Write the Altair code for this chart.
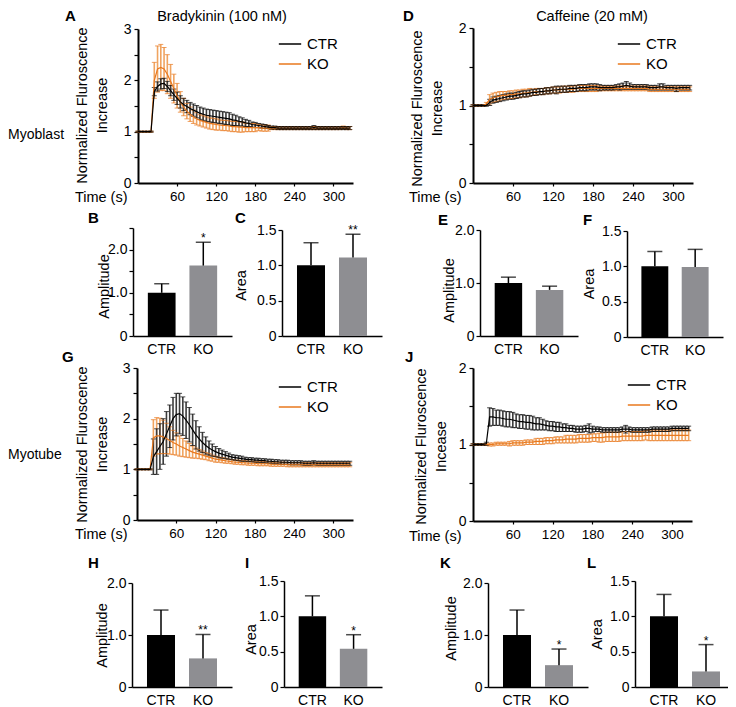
import altair as alt
import pandas as pd

FONT = "Liberation Sans"
W, H = 720, 699

TIME = list(range(0, 330, 5))

A_CTR_MEAN = [1.00,1.00,1.00,1.00,1.00,1.78,1.88,1.93,1.94,1.88,
              1.80,1.72,1.65,1.58,1.53,1.49,1.45,1.42,1.39,1.36,
              1.34,1.32,1.31,1.30,1.29,1.28,1.27,1.26,1.25,1.23,
              1.22,1.20,1.19,1.17,1.16,1.14,1.13,1.12,1.11,1.10,
              1.09,1.08,1.08,1.07,1.07,1.07,1.07,1.07,1.07,1.07,
              1.07,1.07,1.07,1.07,1.08,1.07,1.07,1.07,1.07,1.07,
              1.07,1.07,1.07,1.07,1.07,1.07]
A_CTR_ERR = [0.01,0.01,0.01,0.01,0.01,0.08,0.09,0.10,0.10,0.10,
             0.10,0.11,0.12,0.12,0.12,0.12,0.12,0.12,0.12,0.12,
             0.12,0.12,0.12,0.12,0.12,0.12,0.12,0.12,0.12,0.11,
             0.10,0.09,0.08,0.07,0.06,0.05,0.05,0.04,0.04,0.04,
             0.03,0.03,0.03,0.03,0.03,0.03,0.03,0.03,0.03,0.03,
             0.03,0.03,0.03,0.03,0.04,0.03,0.03,0.03,0.03,0.03,
             0.03,0.03,0.03,0.03,0.03,0.03]
A_KO_MEAN = [1.00,1.00,1.00,1.00,1.00,2.00,2.22,2.25,2.22,2.12,
             1.98,1.84,1.70,1.58,1.48,1.40,1.34,1.29,1.25,1.22,
             1.20,1.18,1.16,1.15,1.14,1.13,1.12,1.12,1.11,1.10,
             1.10,1.09,1.09,1.08,1.08,1.08,1.08,1.08,1.07,1.07,
             1.07,1.07,1.07,1.07,1.07,1.07,1.07,1.07,1.07,1.07,
             1.07,1.07,1.07,1.07,1.07,1.07,1.07,1.07,1.07,1.07,
             1.07,1.07,1.07,1.08,1.07,1.07]
A_KO_ERR = [0.01,0.01,0.01,0.01,0.01,0.35,0.45,0.45,0.42,0.38,
            0.33,0.28,0.24,0.20,0.17,0.15,0.14,0.13,0.12,0.11,
            0.11,0.11,0.11,0.11,0.11,0.10,0.10,0.10,0.10,0.10,
            0.10,0.10,0.10,0.08,0.08,0.08,0.08,0.06,0.06,0.06,
            0.06,0.03,0.03,0.03,0.03,0.03,0.03,0.03,0.03,0.03,
            0.03,0.03,0.03,0.03,0.03,0.03,0.03,0.03,0.03,0.03,
            0.03,0.03,0.03,0.03,0.03,0.03]

D_CTR_MEAN = [1.00,1.00,1.00,1.00,1.00,1.04,1.07,1.08,1.09,1.10,
              1.11,1.12,1.12,1.13,1.14,1.15,1.15,1.16,1.17,1.17,
              1.18,1.18,1.19,1.19,1.20,1.20,1.21,1.21,1.21,1.22,
              1.22,1.22,1.23,1.23,1.23,1.24,1.24,1.24,1.23,1.23,
              1.23,1.23,1.23,1.24,1.24,1.25,1.26,1.25,1.24,1.24,
              1.24,1.24,1.24,1.23,1.23,1.23,1.24,1.24,1.23,1.23,
              1.23,1.22,1.23,1.23,1.23,1.23]
D_CTR_ERR = [0.01,0.01,0.01,0.01,0.01,0.04,0.04,0.04,0.04,0.04,
             0.04,0.04,0.04,0.04,0.04,0.04,0.04,0.04,0.04,0.04,
             0.04,0.04,0.04,0.04,0.04,0.05,0.04,0.04,0.04,0.04,
             0.04,0.04,0.04,0.04,0.04,0.04,0.04,0.04,0.04,0.03,
             0.03,0.03,0.03,0.03,0.04,0.04,0.05,0.04,0.03,0.03,
             0.03,0.03,0.03,0.03,0.03,0.03,0.04,0.04,0.03,0.03,
             0.03,0.04,0.03,0.03,0.03,0.03]
D_KO_MEAN = [1.00,1.00,1.00,1.00,1.02,1.08,1.10,1.11,1.12,1.13,
             1.13,1.14,1.14,1.15,1.15,1.16,1.16,1.17,1.17,1.18,
             1.18,1.18,1.19,1.19,1.20,1.20,1.20,1.21,1.21,1.21,
             1.21,1.22,1.22,1.22,1.22,1.22,1.22,1.22,1.22,1.22,
             1.22,1.22,1.22,1.22,1.22,1.22,1.22,1.22,1.22,1.22,
             1.22,1.22,1.22,1.21,1.21,1.21,1.21,1.21,1.21,1.21,
             1.21,1.21,1.21,1.21,1.21,1.21]
D_KO_ERR = [0.01,0.01,0.01,0.01,0.02,0.06,0.06,0.06,0.06,0.05,
            0.05,0.05,0.05,0.05,0.05,0.05,0.05,0.05,0.04,0.04,
            0.04,0.04,0.04,0.04,0.04,0.04,0.04,0.04,0.04,0.04,
            0.04,0.04,0.04,0.04,0.04,0.04,0.04,0.04,0.03,0.03,
            0.03,0.03,0.03,0.03,0.03,0.03,0.03,0.03,0.03,0.03,
            0.03,0.03,0.03,0.03,0.03,0.03,0.03,0.03,0.03,0.03,
            0.03,0.03,0.03,0.03,0.03,0.03]

G_CTR_MEAN = [1.00,1.00,1.00,1.00,1.00,1.25,1.35,1.45,1.55,1.70,
              1.85,2.00,2.08,2.10,2.05,1.97,1.88,1.78,1.68,1.60,
              1.53,1.47,1.42,1.38,1.35,1.32,1.30,1.28,1.26,1.24,
              1.23,1.22,1.21,1.20,1.19,1.19,1.18,1.18,1.17,1.17,
              1.16,1.16,1.15,1.15,1.14,1.14,1.14,1.13,1.13,1.13,
              1.13,1.12,1.12,1.12,1.13,1.12,1.12,1.12,1.12,1.12,
              1.12,1.12,1.12,1.12,1.12,1.12]
G_CTR_ERR = [0.01,0.01,0.01,0.01,0.01,0.35,0.45,0.45,0.45,0.44,
             0.42,0.42,0.42,0.40,0.38,0.36,0.34,0.31,0.28,0.24,
             0.20,0.17,0.14,0.12,0.10,0.09,0.08,0.07,0.06,0.05,
             0.05,0.05,0.05,0.04,0.04,0.04,0.04,0.04,0.04,0.04,
             0.04,0.04,0.04,0.04,0.04,0.04,0.04,0.04,0.04,0.04,
             0.04,0.04,0.04,0.04,0.04,0.04,0.04,0.04,0.04,0.04,
             0.04,0.04,0.04,0.04,0.04,0.04]
G_KO_MEAN = [1.00,1.00,1.00,1.00,1.00,1.62,1.66,1.66,1.64,1.61,
             1.57,1.53,1.50,1.46,1.43,1.40,1.37,1.34,1.32,1.30,
             1.28,1.26,1.24,1.22,1.20,1.19,1.18,1.17,1.16,1.15,
             1.14,1.14,1.13,1.13,1.12,1.12,1.12,1.11,1.11,1.11,
             1.11,1.10,1.10,1.10,1.10,1.10,1.09,1.09,1.09,1.09,
             1.09,1.09,1.09,1.09,1.09,1.09,1.09,1.09,1.09,1.09,
             1.09,1.09,1.09,1.09,1.09,1.09]
G_KO_ERR = [0.01,0.01,0.01,0.01,0.01,0.36,0.36,0.35,0.33,0.30,
            0.27,0.24,0.22,0.20,0.18,0.16,0.14,0.12,0.10,0.09,
            0.08,0.07,0.07,0.06,0.06,0.05,0.05,0.05,0.04,0.04,
            0.04,0.04,0.04,0.04,0.04,0.04,0.04,0.04,0.04,0.04,
            0.04,0.04,0.04,0.04,0.04,0.04,0.04,0.04,0.04,0.04,
            0.04,0.04,0.04,0.04,0.04,0.04,0.04,0.04,0.04,0.04,
            0.04,0.04,0.04,0.04,0.04,0.04]

J_CTR_MEAN = [1.00,1.00,1.00,1.00,1.01,1.36,1.36,1.35,1.35,1.34,
              1.33,1.33,1.32,1.31,1.30,1.30,1.29,1.29,1.28,1.27,
              1.27,1.26,1.25,1.24,1.24,1.23,1.23,1.22,1.22,1.21,
              1.21,1.20,1.20,1.20,1.21,1.21,1.20,1.20,1.20,1.19,
              1.19,1.19,1.19,1.19,1.19,1.20,1.20,1.20,1.19,1.19,
              1.19,1.19,1.19,1.19,1.20,1.20,1.20,1.20,1.20,1.20,
              1.21,1.21,1.21,1.21,1.21,1.21]
J_CTR_ERR = [0.01,0.01,0.01,0.01,0.02,0.12,0.11,0.10,0.10,0.10,
             0.10,0.10,0.10,0.09,0.09,0.09,0.09,0.09,0.09,0.08,
             0.08,0.07,0.06,0.06,0.06,0.06,0.06,0.05,0.05,0.04,
             0.04,0.04,0.04,0.04,0.04,0.06,0.04,0.03,0.03,0.03,
             0.03,0.03,0.03,0.03,0.03,0.03,0.05,0.03,0.03,0.03,
             0.03,0.03,0.03,0.03,0.03,0.03,0.03,0.03,0.03,0.03,
             0.03,0.03,0.03,0.03,0.03,0.03]
J_KO_MEAN = [1.00,1.00,1.00,1.00,1.00,1.00,1.00,1.01,1.01,1.01,
             1.01,1.01,1.02,1.02,1.02,1.02,1.03,1.03,1.03,1.04,
             1.04,1.04,1.05,1.05,1.05,1.06,1.06,1.06,1.07,1.07,
             1.07,1.07,1.08,1.08,1.08,1.08,1.09,1.09,1.09,1.09,
             1.10,1.10,1.10,1.10,1.10,1.11,1.11,1.11,1.11,1.11,
             1.11,1.11,1.12,1.12,1.12,1.12,1.12,1.12,1.12,1.12,
             1.12,1.12,1.12,1.12,1.12,1.12]
J_KO_ERR = [0.01,0.01,0.01,0.01,0.01,0.02,0.02,0.02,0.02,0.02,
            0.02,0.03,0.03,0.03,0.03,0.03,0.03,0.03,0.03,0.04,
            0.04,0.04,0.04,0.04,0.04,0.04,0.04,0.04,0.05,0.05,
            0.05,0.05,0.05,0.05,0.05,0.05,0.05,0.05,0.06,0.06,
            0.06,0.06,0.06,0.06,0.06,0.06,0.06,0.06,0.06,0.06,
            0.06,0.06,0.06,0.07,0.07,0.07,0.07,0.07,0.07,0.07,
            0.07,0.07,0.07,0.07,0.07,0.07]

GROUPS = ["CTR", "KO"]
B_MEAN, B_ERR, B_STAR = [1.00, 1.63], [0.21, 0.54], ["", "*"]
C_MEAN, C_ERR, C_STAR = [1.00, 1.11], [0.32, 0.33], ["", "**"]
E_MEAN, E_ERR, E_STAR = [1.00, 0.87], [0.11, 0.07], ["", ""]
F_MEAN, F_ERR, F_STAR = [1.00, 0.99], [0.21, 0.25], ["", ""]
H_MEAN, H_ERR, H_STAR = [1.00, 0.55], [0.48, 0.46], ["", "**"]
I_MEAN, I_ERR, I_STAR = [1.00, 0.54], [0.29, 0.20], ["", "*"]
K_MEAN, K_ERR, K_STAR = [1.00, 0.42], [0.48, 0.31], ["", "*"]
L_MEAN, L_ERR, L_STAR = [1.00, 0.22], [0.31, 0.38], ["", "*"]

ORANGE = "#E8781E"
ORANGE_LIGHT = "#F0A460"
GREY_BAND = "#3C3C3C"
KO_BAR = "#8E8E92"

AX = dict(domainColor="black", tickColor="black", labelColor="black", titleColor="black",
          labelFont=FONT, titleFont=FONT, titleFontWeight="normal", grid=False)


def line_panel(cm, ce, km, ke, xr, yr, ytop, yvals, ytitle, ytx, yty, ttx, tty, legx, legy):
    rows, caps, lines = [], [], []
    for g, m, e in (("KO", km, ke), ("CTR", cm, ce)):
        for t, mm, ee in zip(TIME, m, e):
            rows.append(dict(t=t, lo=mm - ee, hi=mm + ee, g=g))
            caps.append(dict(t=t, v=mm - ee, g=g))
            caps.append(dict(t=t, v=mm + ee, g=g))
            lines.append(dict(t=t, m=mm, g=g))
    xs = alt.Scale(domain=[0, 330], range=xr, nice=False, zero=False)
    ys = alt.Scale(domain=[0, ytop], range=yr, nice=False, zero=False)
    xaxis = alt.Axis(orient="bottom", offset=yr[0] - H, values=[60, 120, 180, 240, 300],
                     title="Time (s)", titleX=ttx, titleY=tty, titleAlign="right", titleAngle=0,
                     titleBaseline="alphabetic", titleFontSize=14.5, labelFontSize=13.5,
                     tickSize=3, tickWidth=1.2, domainWidth=2, labelPadding=3, **AX)
    yaxis = alt.Axis(orient="left", offset=-xr[0], values=yvals,
                     labelExpr="datum.value % 1 === 0 ? format(datum.value, 'd') : ''",
                     title=ytitle, titleX=ytx, titleY=yty, titleAngle=270, titleAlign="center",
                     titleBaseline="middle", titleLineHeight=20, titleFontSize=14.5,
                     labelFontSize=14, tickSize=4, tickWidth=1.2, domainWidth=2, labelPadding=3, **AX)
    rules = alt.Chart(pd.DataFrame(rows)).mark_rule(strokeWidth=1.6).encode(
        x=alt.X("t:Q", scale=xs, axis=xaxis),
        y=alt.Y("lo:Q", scale=ys, axis=yaxis),
        y2="hi:Q",
        color=alt.Color("g:N", scale=alt.Scale(domain=GROUPS, range=[GREY_BAND, ORANGE_LIGHT]), legend=None),
    )
    capl = alt.Chart(pd.DataFrame(caps)).mark_tick(orient="horizontal", size=5, thickness=1).encode(
        x=alt.X("t:Q", scale=xs, axis=None),
        y=alt.Y("v:Q", scale=ys, axis=None),
        color=alt.Color("g:N", scale=alt.Scale(domain=GROUPS, range=["black", ORANGE]), legend=None),
    )
    line = alt.Chart(pd.DataFrame(lines)).mark_line(strokeWidth=1.2).encode(
        x=alt.X("t:Q", scale=xs, axis=None),
        y=alt.Y("m:Q", scale=ys, axis=None),
        color=alt.Color("g:N", scale=alt.Scale(domain=GROUPS, range=["black", ORANGE]),
                        legend=alt.Legend(orient="none", legendX=legx, legendY=legy, title=None,
                                          symbolType="stroke", symbolSize=500, symbolStrokeWidth=1.5,
                                          labelFont=FONT, labelFontSize=15, labelColor="black",
                                          labelOffset=5, rowPadding=-9, padding=0)),
    )
    return [rules, capl, line]


def bar_panel(means, errs, stars, xr, yr, ytop, yvals, label_expr, ytitle, ytx, yty):
    df = pd.DataFrame(dict(g=GROUPS, v=means, top=[m + e for m, e in zip(means, errs)], star=stars))
    xs = alt.Scale(type="band", domain=GROUPS, range=xr, paddingInner=0.333, paddingOuter=0.357)
    ys = alt.Scale(domain=[0, ytop], range=yr, nice=False, zero=False)
    xaxis = alt.Axis(orient="bottom", offset=yr[0] - H, ticks=False, title=None, labelAngle=0,
                     labelFontSize=14, labelPadding=6, domainWidth=1.5, **AX)
    yaxis = alt.Axis(orient="left", offset=-xr[0], values=yvals, labelExpr=label_expr,
                     title=ytitle, titleX=ytx, titleY=yty, titleAngle=270, titleAlign="center",
                     titleBaseline="middle", titleFontSize=14.5, labelFontSize=14,
                     tickSize=4, tickWidth=1.2, domainWidth=1.5, labelPadding=2, **AX)
    base = alt.Chart(df)
    bars = base.mark_bar().encode(
        x=alt.X("g:N", scale=xs, axis=xaxis),
        y=alt.Y("v:Q", scale=ys, axis=yaxis),
        color=alt.Color("g:N", scale=alt.Scale(domain=GROUPS, range=["black", KO_BAR]), legend=None),
    )
    err = base.mark_rule(strokeWidth=1.5, color="black").encode(
        x=alt.X("g:N", scale=xs, axis=None),
        y=alt.Y("v:Q", scale=ys, axis=None),
        y2="top:Q",
    )
    cap = base.mark_tick(orient="horizontal", size=15, thickness=1.5, color="black").encode(
        x=alt.X("g:N", scale=xs, axis=None),
        y=alt.Y("top:Q", scale=ys, axis=None),
    )
    star = base.mark_text(baseline="alphabetic", dy=0, fontSize=12, font=FONT, color="black").encode(
        x=alt.X("g:N", scale=xs, axis=None),
        y=alt.Y("top:Q", scale=ys, axis=None),
        text="star:N",
    )
    return [bars, err, cap, star]


def txt(s, x, y, size=14.5, weight="normal", align="left"):
    return alt.Chart(alt.Data(values=[{"s": s}])).mark_text(
        align=align, baseline="alphabetic", fontSize=size, fontWeight=weight, font=FONT, color="black"
    ).encode(x=alt.value(x), y=alt.value(y), text="s:N")


AMP = "datum.value === 0 ? '0' : (datum.value % 1 === 0 ? format(datum.value, '.1f') : '')"
AREA = "datum.value === 0 ? '0' : format(datum.value, '.1f')"
NF = ["Normalized Fluroscence", "Increase"]

layers = []
layers += line_panel(A_CTR_MEAN, A_CTR_ERR, A_KO_MEAN, A_KO_ERR, [130, 345], [175, 21], 3,
                     [0, 0.5, 1, 1.5, 2, 2.5, 3], NF, -56, 97, 119, 18, 270, 24)
layers += line_panel(D_CTR_MEAN, D_CTR_ERR, D_KO_MEAN, D_KO_ERR, [465, 685], [175, 20], 2,
                     [0, 0.5, 1, 1.5, 2], NF, -55.5, 100, 453, 18, 609, 24)
layers += line_panel(G_CTR_MEAN, G_CTR_ERR, G_KO_MEAN, G_KO_ERR, [129, 345], [512, 360], 3,
                     [0, 0.5, 1, 1.5, 2, 2.5, 3], NF, -54.5, 436, 119, 18, 270, 367)
layers += line_panel(J_CTR_MEAN, J_CTR_ERR, J_KO_MEAN, J_KO_ERR, [465, 684], [513, 360], 2,
                     [0, 0.5, 1, 1.5, 2], ["Normalized Fluroscence", "Incease"], -52, 438, 453, 19, 619, 365)

layers += bar_panel(B_MEAN, B_ERR, B_STAR, [125, 224], [328, 220], 2.5, [0, 0.5, 1, 1.5, 2, 2.5], AMP, "Amplitude", -28.5, 278)
layers += bar_panel(C_MEAN, C_ERR, C_STAR, [274, 374], [328, 222], 1.5, [0, 0.5, 1, 1.5], AREA, "Area", -41, 277)
layers += bar_panel(E_MEAN, E_ERR, E_STAR, [472, 570], [328, 222], 2.0, [0, 1, 2], AMP, "Amplitude", -31, 282)
layers += bar_panel(F_MEAN, F_ERR, F_STAR, [619, 715], [329, 223], 1.5, [0, 0.5, 1, 1.5], AREA, "Area", -37.5, 275.5)
layers += bar_panel(H_MEAN, H_ERR, H_STAR, [124, 224], [679, 575], 2.0, [0, 1, 2], AMP, "Amplitude", -29.5, 627)
layers += bar_panel(I_MEAN, I_ERR, I_STAR, [276, 374], [679, 573], 1.5, [0, 0.5, 1, 1.5], AREA, "Area", -33, 631)
layers += bar_panel(K_MEAN, K_ERR, K_STAR, [480, 580], [679, 575], 2.0, [0, 1, 2], AMP, "Amplitude", -37, 620)
layers += bar_panel(L_MEAN, L_ERR, L_STAR, [627, 727], [679, 573], 1.5, [0, 0.5, 1, 1.5], AREA, "Area", -37.5, 626)

layers += [
    txt("Bradykinin (100 nM)", 214, 13, align="center"),
    txt("Caffeine (20 mM)", 584, 13, align="center"),
    txt("Myoblast", 0, 131, size=14),
    txt("Myotube", 0, 451, size=14),
]
for letter, x, y in [("A", 57, 13), ("D", 395, 13), ("B", 80, 215), ("C", 227, 215), ("E", 430, 217),
                     ("F", 575, 217), ("G", 54, 354), ("J", 397, 354), ("H", 80, 560), ("I", 237, 560),
                     ("K", 432, 560), ("L", 579, 560)]:
    layers.append(txt(letter, x, y, size=15, weight="bold"))

chart = alt.layer(*layers).resolve_scale(
    x="independent", y="independent", color="independent"
).resolve_axis(x="independent", y="independent").resolve_legend(color="independent").properties(
    width=W, height=H, autosize=alt.AutoSizeParams(type="none"), padding=0
).configure_view(stroke=None)

chart.save("out.html", embed_options={"renderer": "svg", "actions": False})
